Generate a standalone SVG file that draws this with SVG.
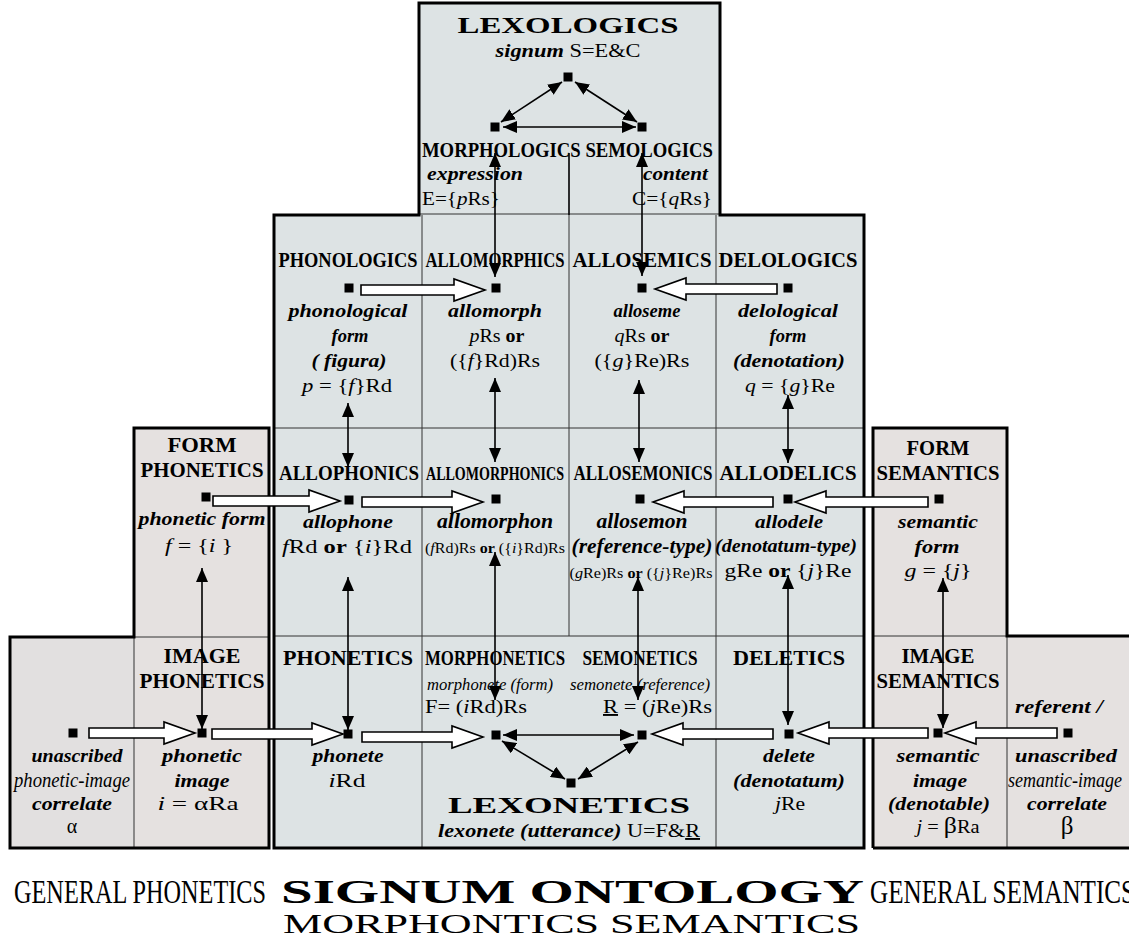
<svg xmlns="http://www.w3.org/2000/svg" width="1129" height="938" viewBox="0 0 1129 938">
<style>
text{font-family:"Liberation Serif","Times New Roman",serif;fill:#000}
.h{font-weight:bold;font-size:20px}
.bi{font-weight:bold;font-style:italic;font-size:19px}
.r{font-size:19px}
.s{font-size:14px}
.it{font-style:italic}
.bo{font-weight:bold}
.nb{font-weight:normal;font-style:normal}
.thick{fill:none;stroke:#000;stroke-width:3}
.thin{fill:none;stroke:#333;stroke-width:1}
.sq{fill:#000}
.con line{stroke:#000;stroke-width:1.6;marker-start:url(#ah);marker-end:url(#ah)}
.blk{fill:#fff;stroke:#000;stroke-width:1.6;stroke-linejoin:miter}
</style>
<defs>
<marker id="ah" viewBox="0 0 14 12" refX="14" refY="6" markerWidth="14" markerHeight="12" markerUnits="userSpaceOnUse" orient="auto-start-reverse"><path d="M0,0 L14,6 L0,12 Z" fill="#000"/></marker>
</defs>
<rect width="1129" height="938" fill="#fff"/>
<g id="frames">
<rect x="274" y="215" width="590" height="633" fill="#dde3e4"/>
<rect x="419" y="3" width="301" height="212" fill="#dde3e4"/>
<rect x="134" y="428" width="135" height="209" fill="#e5e1e0"/>
<rect x="10" y="637" width="259" height="211" fill="#e5e1e0"/>
<rect x="10" y="637" width="124" height="211" fill="#e2e0e0"/>
<rect x="873" y="428" width="134" height="208" fill="#e5e1e0"/>
<rect x="873" y="636" width="256" height="212" fill="#e5e1e0"/>
<path class="thin" d="M422,215V848M569,215V636M716,215V848M274,428H864M274,636H864M134,637H269M134,637V848M873,636H1007M1007,636V848M419,214H720"/>
<path d="M569,153V215" stroke="#000" stroke-width="1.6"/>
<path class="thick" d="M274,848V215H419V3H720V215H864V848Z"/>
<path class="thick" d="M269,848H10V637H134V428H269Z"/>
<path class="thick" d="M873,848V428H1007V636H1131M873,848H1131"/>
</g>
<g id="connectors" class="con">
<line x1="562" y1="82" x2="501" y2="122"/>
<line x1="575" y1="82" x2="637" y2="122"/>
<line x1="503" y1="127" x2="636" y2="127"/>
<line x1="495" y1="153" x2="495" y2="277"/>
<line x1="642" y1="153" x2="642" y2="276"/>
<line x1="348" y1="403" x2="348" y2="467"/>
<line x1="495" y1="378" x2="495" y2="462"/>
<line x1="639" y1="380" x2="639" y2="462"/>
<line x1="788" y1="395" x2="788" y2="463"/>
<line x1="202" y1="568" x2="202" y2="729"/>
<line x1="348" y1="577" x2="348" y2="730"/>
<line x1="495" y1="552" x2="495" y2="700"/>
<line x1="638" y1="577" x2="638" y2="700"/>
<line x1="788" y1="575" x2="788" y2="725"/>
<line x1="943" y1="578" x2="943" y2="728"/>
<line x1="503" y1="735" x2="634" y2="735"/>
<line x1="502" y1="741" x2="565" y2="779"/>
<line x1="638" y1="742" x2="578" y2="779"/>
<path class="blk" d="M361,285H454V279L485,290L454,301V295H361Z"/>
<path class="blk" d="M777,284H686V278L655,289L686,300V294H777Z"/>
<path class="blk" d="M213,496H309V490L340,501L309,512V506H213Z"/>
<path class="blk" d="M362,497H452V491L483,502L452,513V507H362Z"/>
<path class="blk" d="M773,497H684V491L653,502L684,513V507H773Z"/>
<path class="blk" d="M928,497H826V491L795,502L826,513V507H928Z"/>
<path class="blk" d="M89,728H164V722L195,733L164,744V738H89Z"/>
<path class="blk" d="M212,729H312V723L343,734L312,745V739H212Z"/>
<path class="blk" d="M362,732H452V726L483,737L452,748V742H362Z"/>
<path class="blk" d="M773,729H683V723L652,734L683,745V739H773Z"/>
<path class="blk" d="M928,728H829V722L798,733L829,744V738H928Z"/>
<path class="blk" d="M1057,728H976V722L945,733L976,744V738H1057Z"/>
</g>
<g id="lexologics">
<text x="568" y="33" class="h" text-anchor="middle" textLength="221" lengthAdjust="spacingAndGlyphs" style="font-size:23px">LEXOLOGICS</text>
<text x="568" y="57" class="r" text-anchor="middle" textLength="145" lengthAdjust="spacingAndGlyphs"><tspan class="bo it">signum</tspan> S=E&amp;C</text>
<rect class="sq" x="563.5" y="72.5" width="9" height="9"/>
</g>
<g id="morphologics">
<rect class="sq" x="490.5" y="122.5" width="9" height="9"/>
<text x="422" y="157" class="h" textLength="291" lengthAdjust="spacingAndGlyphs">MORPHOLOGICS SEMOLOGICS</text>
<text x="427" y="180" class="bi" textLength="96" lengthAdjust="spacingAndGlyphs">expression</text>
<text x="422" y="205" class="r" textLength="78" lengthAdjust="spacingAndGlyphs">E={<tspan class="it">p</tspan>Rs}</text>
</g>
<g id="semologics">
<rect class="sq" x="637.5" y="122.5" width="9" height="9"/>
<text x="708" y="180" class="bi" text-anchor="end" textLength="65" lengthAdjust="spacingAndGlyphs">content</text>
<text x="712" y="205" class="r" text-anchor="end" textLength="80" lengthAdjust="spacingAndGlyphs">C={<tspan class="it">q</tspan>Rs}</text>
</g>
<g id="phonologics" text-anchor="middle">
<text x="348" y="267" class="h" textLength="139" lengthAdjust="spacingAndGlyphs">PHONOLOGICS</text>
<rect class="sq" x="344.5" y="283.5" width="9" height="9"/>
<text x="348" y="317" class="bi" textLength="119" lengthAdjust="spacingAndGlyphs">phonological</text>
<text x="350" y="342" class="bi" textLength="37" lengthAdjust="spacingAndGlyphs">form</text>
<text x="349" y="367" class="bi" textLength="75" lengthAdjust="spacingAndGlyphs">( figura)</text>
<text x="347" y="392" class="r" textLength="90" lengthAdjust="spacingAndGlyphs"><tspan class="it">p</tspan> = {<tspan class="it">f</tspan>}Rd</text>
</g>
<g id="allomorphics" text-anchor="middle">
<text x="495" y="267" class="h" textLength="139" lengthAdjust="spacingAndGlyphs">ALLOMORPHICS</text>
<rect class="sq" x="491.5" y="283.5" width="9" height="9"/>
<text x="495" y="317" class="bi" textLength="94" lengthAdjust="spacingAndGlyphs">allomorph</text>
<text x="497" y="342" class="r" textLength="55" lengthAdjust="spacingAndGlyphs"><tspan class="it">p</tspan>Rs <tspan class="bo">or</tspan></text>
<text x="495" y="367" class="r" textLength="90" lengthAdjust="spacingAndGlyphs">({<tspan class="it">f</tspan>}Rd)Rs</text>
</g>
<g id="allosemics" text-anchor="middle">
<text x="642" y="267" class="h" textLength="139" lengthAdjust="spacingAndGlyphs">ALLOSEMICS</text>
<rect class="sq" x="637.5" y="283.5" width="9" height="9"/>
<text x="647" y="317" class="bi" textLength="67" lengthAdjust="spacingAndGlyphs">alloseme</text>
<text x="642" y="342" class="r" textLength="55" lengthAdjust="spacingAndGlyphs"><tspan class="it">q</tspan>Rs <tspan class="bo">or</tspan></text>
<text x="642" y="367" class="r" textLength="95" lengthAdjust="spacingAndGlyphs">({<tspan class="it">g</tspan>}Re)Rs</text>
</g>
<g id="delologics" text-anchor="middle">
<text x="788" y="267" class="h" textLength="139" lengthAdjust="spacingAndGlyphs">DELOLOGICS</text>
<rect class="sq" x="783.5" y="283.5" width="9" height="9"/>
<text x="788" y="317" class="bi" textLength="100" lengthAdjust="spacingAndGlyphs">delological</text>
<text x="788" y="342" class="bi" textLength="37" lengthAdjust="spacingAndGlyphs">form</text>
<text x="789" y="367" class="bi" textLength="112" lengthAdjust="spacingAndGlyphs">(denotation)</text>
<text x="790" y="392" class="r" textLength="90" lengthAdjust="spacingAndGlyphs"><tspan class="it">q</tspan> = {<tspan class="it">g</tspan>}Re</text>
</g>
<g id="form-phonetics" text-anchor="middle">
<text x="202" y="452" class="h" textLength="69" lengthAdjust="spacingAndGlyphs">FORM</text>
<text x="202" y="477" class="h" textLength="123" lengthAdjust="spacingAndGlyphs">PHONETICS</text>
<rect class="sq" x="201.5" y="492.5" width="9" height="9"/>
<text x="202" y="525" class="bi" textLength="127" lengthAdjust="spacingAndGlyphs">phonetic  form</text>
<text x="199" y="552" class="r it" textLength="68" lengthAdjust="spacingAndGlyphs">f <tspan class="nb">= {</tspan>i <tspan class="nb">}</tspan></text>
</g>
<g id="allophonics" text-anchor="middle">
<text x="349" y="480" class="h" textLength="140" lengthAdjust="spacingAndGlyphs">ALLOPHONICS</text>
<rect class="sq" x="344.5" y="495.5" width="9" height="9"/>
<text x="348" y="528" class="bi" textLength="90" lengthAdjust="spacingAndGlyphs">allophone</text>
<text x="347" y="553" class="r" textLength="130" lengthAdjust="spacingAndGlyphs"><tspan class="it">f</tspan>Rd  <tspan class="bo">or</tspan>  {<tspan class="it">i</tspan>}Rd</text>
</g>
<g id="allomorphonics" text-anchor="middle">
<text x="495" y="480" class="h" textLength="138" lengthAdjust="spacingAndGlyphs" style="font-size:19px">ALLOMORPHONICS</text>
<rect class="sq" x="491.5" y="494.5" width="9" height="9"/>
<text x="495" y="528" class="bi" textLength="116" lengthAdjust="spacingAndGlyphs" style="font-size:21px">allomorphon</text>
<text x="495" y="553" class="s" textLength="140" lengthAdjust="spacingAndGlyphs">(<tspan class="it">f</tspan>Rd)Rs <tspan class="bo">or</tspan> ({<tspan class="it">i</tspan>}Rd)Rs</text>
</g>
<g id="allosemonics" text-anchor="middle">
<text x="643" y="480" class="h" textLength="139" lengthAdjust="spacingAndGlyphs">ALLOSEMONICS</text>
<rect class="sq" x="635.5" y="494.5" width="9" height="9"/>
<text x="642" y="528" class="bi" textLength="91" lengthAdjust="spacingAndGlyphs" style="font-size:21px">allosemon</text>
<text x="642" y="553" class="bi" textLength="141" lengthAdjust="spacingAndGlyphs" style="font-size:21px">(reference-type)</text>
<text x="641" y="578" class="s" textLength="143" lengthAdjust="spacingAndGlyphs">(<tspan class="it">g</tspan>Re)Rs <tspan class="bo">or</tspan> ({<tspan class="it">j</tspan>}Re)Rs</text>
</g>
<g id="allodelics" text-anchor="middle">
<text x="788" y="480" class="h" textLength="137" lengthAdjust="spacingAndGlyphs">ALLODELICS</text>
<rect class="sq" x="783.5" y="494.5" width="9" height="9"/>
<text x="789" y="528" class="bi" textLength="68" lengthAdjust="spacingAndGlyphs">allodele</text>
<text x="786" y="552" class="bi" textLength="142" lengthAdjust="spacingAndGlyphs">(denotatum-type)</text>
<text x="788" y="577" class="r" textLength="127" lengthAdjust="spacingAndGlyphs">gRe  <tspan class="bo">or</tspan> {<tspan class="it">j</tspan>}Re</text>
</g>
<g id="form-semantics" text-anchor="middle">
<text x="938" y="455" class="h" textLength="63" lengthAdjust="spacingAndGlyphs">FORM</text>
<text x="938" y="480" class="h" textLength="123" lengthAdjust="spacingAndGlyphs">SEMANTICS</text>
<rect class="sq" x="934.5" y="494.5" width="9" height="9"/>
<text x="938" y="528" class="bi" textLength="80" lengthAdjust="spacingAndGlyphs">semantic</text>
<text x="937" y="553" class="bi" textLength="45" lengthAdjust="spacingAndGlyphs">form</text>
<text x="938" y="577" class="r it" textLength="67" lengthAdjust="spacingAndGlyphs">g <tspan class="nb">=</tspan> <tspan class="nb">{</tspan>j<tspan class="nb">}</tspan></text>
</g>
<g id="unascribed-phonetic" text-anchor="middle">
<rect class="sq" x="68.5" y="728.5" width="9" height="9"/>
<text x="77" y="762" class="bi" textLength="91" lengthAdjust="spacingAndGlyphs">unascribed</text>
<text x="72" y="787" class="r it" textLength="116" lengthAdjust="spacingAndGlyphs" style="font-size:20px">phonetic-image</text>
<text x="72" y="810" class="bi" textLength="80" lengthAdjust="spacingAndGlyphs">correlate</text>
<text x="72" y="833" class="r" style="font-size:20px">α</text>
</g>
<g id="image-phonetics" text-anchor="middle">
<text x="202" y="663" class="h" textLength="77" lengthAdjust="spacingAndGlyphs">IMAGE</text>
<text x="202" y="688" class="h" textLength="125" lengthAdjust="spacingAndGlyphs">PHONETICS</text>
<rect class="sq" x="197.5" y="728.5" width="9" height="9"/>
<text x="202" y="762" class="bi" textLength="80" lengthAdjust="spacingAndGlyphs">phonetic</text>
<text x="202" y="787" class="bi" textLength="55" lengthAdjust="spacingAndGlyphs">image</text>
<text x="198" y="810" class="r" textLength="81" lengthAdjust="spacingAndGlyphs"><tspan class="it">i</tspan> = αRa</text>
</g>
<g id="phonetics" text-anchor="middle">
<text x="348" y="665" class="h" textLength="130" lengthAdjust="spacingAndGlyphs">PHONETICS</text>
<rect class="sq" x="343.5" y="729.5" width="9" height="9"/>
<text x="348" y="762" class="bi" textLength="71" lengthAdjust="spacingAndGlyphs">phonete</text>
<text x="347" y="787" class="r" textLength="37" lengthAdjust="spacingAndGlyphs"><tspan class="it">i</tspan>Rd</text>
</g>
<g id="morphonetics">
<text x="495" y="665" class="h" text-anchor="middle" textLength="140" lengthAdjust="spacingAndGlyphs">MORPHONETICS</text>
<text x="427" y="690" class="it" textLength="126" lengthAdjust="spacingAndGlyphs" style="font-size:17px">morphonete (form)</text>
<text x="425" y="713" class="r" textLength="102" lengthAdjust="spacingAndGlyphs">F= (<tspan class="it">i</tspan>Rd)Rs</text>
<rect class="sq" x="491.5" y="730.5" width="9" height="9"/>
</g>
<g id="semonetics">
<text x="640" y="665" class="h" text-anchor="middle" textLength="115" lengthAdjust="spacingAndGlyphs">SEMONETICS</text>
<text x="570" y="690" class="it" textLength="140" lengthAdjust="spacingAndGlyphs" style="font-size:17px">semonete (reference)</text>
<text x="712" y="713" class="r" text-anchor="end" textLength="109" lengthAdjust="spacingAndGlyphs"><tspan text-decoration="underline">R</tspan> = (<tspan class="it">j</tspan>Re)Rs</text>
<rect class="sq" x="637.5" y="730.5" width="9" height="9"/>
</g>
<g id="lexonetics" text-anchor="middle">
<rect class="sq" x="566.5" y="778.5" width="9" height="9"/>
<text x="569" y="813" class="h" textLength="242" lengthAdjust="spacingAndGlyphs" style="font-size:24px">LEXONETICS</text>
<text x="569" y="837" class="r" textLength="262" lengthAdjust="spacingAndGlyphs"><tspan class="bo it">lexonete (utterance)</tspan> U=F&amp;<tspan text-decoration="underline">R</tspan></text>
</g>
<g id="deletics" text-anchor="middle">
<text x="789" y="665" class="h" textLength="112" lengthAdjust="spacingAndGlyphs">DELETICS</text>
<rect class="sq" x="784.5" y="729.5" width="9" height="9"/>
<text x="789" y="762" class="bi" textLength="52" lengthAdjust="spacingAndGlyphs">delete</text>
<text x="789" y="787" class="bi" textLength="112" lengthAdjust="spacingAndGlyphs">(denotatum)</text>
<text x="790" y="810" class="r" textLength="30" lengthAdjust="spacingAndGlyphs"><tspan class="it">j</tspan>Re</text>
</g>
<g id="image-semantics" text-anchor="middle">
<text x="938" y="663" class="h" textLength="73" lengthAdjust="spacingAndGlyphs">IMAGE</text>
<text x="938" y="688" class="h" textLength="123" lengthAdjust="spacingAndGlyphs">SEMANTICS</text>
<rect class="sq" x="933.5" y="728.5" width="9" height="9"/>
<text x="938" y="762" class="bi" textLength="83" lengthAdjust="spacingAndGlyphs">semantic</text>
<text x="940" y="787" class="bi" textLength="54" lengthAdjust="spacingAndGlyphs">image</text>
<text x="939" y="810" class="bi" textLength="102" lengthAdjust="spacingAndGlyphs">(denotable)</text>
<text x="948" y="833" class="r" textLength="63" lengthAdjust="spacingAndGlyphs"><tspan class="it">j</tspan> = <tspan style="font-size:24px">β</tspan>Ra</text>
</g>
<g id="referent" text-anchor="middle">
<text x="1059" y="713" class="bi" textLength="88" lengthAdjust="spacingAndGlyphs">referent /</text>
<rect class="sq" x="1063.5" y="728.5" width="9" height="9"/>
<text x="1066" y="762" class="bi" textLength="102" lengthAdjust="spacingAndGlyphs">unascribed</text>
<text x="1065" y="787" class="r it" textLength="114" lengthAdjust="spacingAndGlyphs" style="font-size:20px">semantic-image</text>
<text x="1067" y="810" class="bi" textLength="80" lengthAdjust="spacingAndGlyphs">correlate</text>
<text x="1067" y="834" class="r" style="font-size:25px">β</text>
</g>
<g id="titles">
<text x="14" y="903" textLength="252" lengthAdjust="spacingAndGlyphs" style="font-size:33px">GENERAL PHONETICS</text>
<text x="281" y="903" class="bo" textLength="583" lengthAdjust="spacingAndGlyphs" style="font-size:34px">SIGNUM ONTOLOGY</text>
<text x="870" y="903" textLength="265" lengthAdjust="spacingAndGlyphs" style="font-size:33px">GENERAL SEMANTICS</text>
<text x="283" y="933" textLength="577" lengthAdjust="spacingAndGlyphs" style="font-size:28px">MORPHONTICS SEMANTICS</text>
</g>
</svg>
